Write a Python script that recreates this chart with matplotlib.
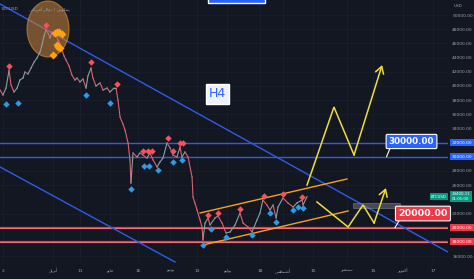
import matplotlib

matplotlib.use("Agg")
import matplotlib.pyplot as plt  # noqa: E402
from matplotlib.patches import Ellipse, Rectangle  # noqa: E402

# x = days since 1 April, y = price (USD)
price_days = [-27.7, -26.2, -24.6, -23.0, -22.0, -20.4, -18.8, -17.3, -15.7, -14.7, -13.1, -11.5,
              -9.9, -8.4, -6.8, -5.8, -4.7, -3.7, -2.6, -1.6, -0.5, 0.5, 1.6, 2.6, 3.7, 4.7, 5.8,
              6.8, 8.4, 9.9, 11.5, 12.6, 14.1, 15.7, 17.3, 18.3, 19.9, 20.9, 22.5, 24.6, 26.2,
              28.3, 29.8, 31.9, 33.0, 34.0, 35.1, 36.6, 37.7, 39.3, 40.3, 40.8, 41.9, 44.0, 45.5,
              47.1, 49.2, 50.8, 52.4, 54.5, 56.0, 57.6, 59.7, 61.3, 62.8, 64.9, 66.5, 67.5, 69.1,
              70.7, 72.8, 73.3, 74.3, 75.4, 77.0, 78.0, 78.5, 79.6, 81.2, 82.2, 84.8, 86.4, 88.5,
              90.6, 92.7, 95.3, 97.9, 99.5, 102.1, 104.2, 106.8, 108.4, 109.9, 112.0, 113.6,
              115.2, 116.8, 117.8, 120.4, 123.0, 125.7, 127.7, 130.4, 130.9, 133.0]
price_vals = [39420, 38720, 39700, 42240, 40130, 39140, 39700, 40830, 41120, 41960, 41680, 42520,
              43370, 43940, 44780, 45770, 47040, 47880, 47460, 46760, 47600, 47040, 47320, 46470,
              45910, 45060, 44220, 43650, 42810, 41540, 40830, 41120, 40550, 40970, 39700, 41400,
              42520, 41120, 39990, 40410, 39420, 39700, 39140, 39700, 39700, 38010, 35610, 34630,
              33780, 31950, 29550, 26300, 30540, 29970, 30540, 30250, 29830, 30540, 29550, 28560,
              29270, 29830, 31950, 31240, 30250, 29970, 31380, 29970, 30680, 29970, 27150, 24330,
              23490, 22500, 21090, 20100, 18270, 20660, 21370, 20380, 21370, 21650, 20660, 19250,
              19400, 20380, 22080, 20660, 20100, 19400, 21090, 22080, 23910, 23200, 22500, 23200,
              21370, 22920, 24190, 23490, 22920, 23490, 23910, 23200, 24400]

high_days = [-23.0, -3.7, 19.9, 33.5, 47.1, 49.7, 51.8, 60.2, 62.8, 66.5, 68.1, 81.2, 86.4, 97.9,
             110.5, 120.4, 130.4]
high_vals = [42810, 48590, 43370, 40270, 30820, 30820, 30820, 32650, 30820, 31950, 31950, 21790,
             22080, 22640, 24470, 24750, 24330]
low_days = [-24.6, -18.3, 17.3, 29.8, 40.8, 47.6, 50.3, 55.0, 62.8, 67.5, 78.5, 82.7, 90.6, 104.2,
            113.6, 116.8, 125.7, 128.3, 130.9]
low_vals = [37450, 37590, 38720, 37590, 25460, 28700, 28700, 28140, 29270, 29550, 17560, 19820,
            18690, 18970, 22080, 20810, 22500, 22920, 22780]
top_days = [0.0, 1.0, 2.1, 3.1, 4.7, 2.1, 2.6, 3.7]
top_vals = [44360, 47460, 47600, 47600, 47320, 45770, 45490, 45350]

# drawings
blue_levels = [32000, 30000]
red_levels = [20000, 18000]
trend_a = ([-27.7, 206.8], [51550, 16570])
trend_b = ([-27.7, 63.9], [28560, 15160])
chan_up = ([77.0, 153.9], [22080, 26870])
chan_lo = ([78.5, 154.5], [17560, 22360])
zig_up = ([133.0, 147.1, 157.6, 172.3], [26020, 37020, 30250, 42950])
zig_lo = ([138.2, 154.5, 162.3, 168.1, 174.3], [23630, 20100, 23200, 20660, 25600])
last_price = 24400.11

price_ticks = [16000, 22000, 26000, 28000, 34000, 36000, 38000, 40000, 42000, 44000, 46000,
               48000, 50000]
time_ticks = [-26.2, 0, 14.1, 29.8, 44.5, 61.3, 75.4, 91.1, 108.4, 120.4, 136.1, 153.9, 167.5,
              183.2, 199.0]
# Arabic month names in shaped presentation forms, visual order
time_labels = ["2", "\uFEDE\uFEF3\uFEAE\uFE91\uFE83", "11", "\uFEEE\uFEF3\uFE8E\uFEE3", "16",
               "\uFEEE\uFEF4\uFEE7\uFEEE\uFEF3", "13", "\uFEEE\uFEF4\uFEDF\uFEEE\uFEF3", "18",
               "\uFEB2\uFEC4\uFEB4\uFECF\uFE83", "15", "\uFEAE\uFE92\uFEE4\uFE98\uFE92\uFEB3", "15",
               "\uFEAE\uFE91\uFEEE\uFE98\uFEDB\uFE83", "17"]
header = ("\uFEF2\uFEDC\uFEF3\uFEAE\uFEE3\uFE83 \uFEAD\uFE8E\uFEDF\uFEED\uFEA9 / "
          "\uFEE6\uFEF3\uFEEE\uFEDC\uFE98\uFEF4\uFE91")

BG = "#131722"
BLUE = "#2e5ce6"
RED = "#f23645"
YELLOW = "#f0dc3c"
ORANGE = "#f7a021"
TXT = "#9aa0ad"

plt.rcParams["font.family"] = ["DejaVu Sans"]
fig = plt.figure(figsize=(4.74, 2.79), dpi=100, facecolor=BG)
ax = fig.add_axes([0, 16 / 279, 448 / 474, 263 / 279], facecolor=BG)
ax.set_xlim(-27.75, 206.8)
ax.set_ylim(15022, 52116)

ax.grid(True, color="#1b2030", lw=0.5)
ax.set_axisbelow(True)
for s in ax.spines.values():
    s.set_visible(False)

ax.yaxis.tick_right()
ax.set_yticks(price_ticks)
ax.set_yticklabels([f"{p:.2f}" for p in price_ticks])
ax.set_xticks(time_ticks)
ax.set_xticklabels(time_labels)
ax.tick_params(length=0, labelsize=3.2, colors=TXT)
ax.tick_params(axis="y", pad=3)
ax.tick_params(axis="x", pad=4)

# levels and trend lines
for lv in blue_levels:
    ax.axhline(lv, color=BLUE, lw=1.0, zorder=2)
for lv in red_levels:
    ax.axhline(lv, color=RED, lw=1.6, zorder=2)
    ax.axhline(lv, color="#ff9aa3", lw=0.4, zorder=2)
for xs, ys in (trend_a, trend_b):
    ax.plot(xs, ys, color=BLUE, lw=1.0, zorder=2)
for xs, ys in (chan_up, chan_lo):
    ax.plot(xs, ys, color=ORANGE, lw=1.0, zorder=3)

ax.add_patch(Ellipse((-2.6, 48030), 22, 7900, fc="#c8843c", alpha=0.55, ec=ORANGE, lw=0.8,
                     zorder=2))

# price line, coloured per move
for i in range(len(price_days) - 1):
    up = price_vals[i + 1] >= price_vals[i]
    ax.plot(price_days[i:i + 2], price_vals[i:i + 2], color="#86a29e" if up else "#d86470",
            lw=0.8, zorder=3)

ax.plot(high_days, high_vals, "D", ms=3.3, color="#f5515f", mec="none", zorder=4)
ax.plot(low_days, low_vals, "D", ms=3.3, color="#2d9be6", mec="none", zorder=4)
ax.plot(top_days, top_vals, "D", ms=3.6, color="#ffa20a", mec="none", zorder=5)

# projected paths
for xs, ys in (zig_up, zig_lo):
    ax.plot(xs[:-1], ys[:-1], color=YELLOW, lw=1.1, zorder=4, solid_joinstyle="miter")
    ax.annotate("", xy=(xs[-1], ys[-1]), xytext=(xs[-2], ys[-2]),
                arrowprops=dict(arrowstyle="->,head_length=0.5,head_width=0.3", color=YELLOW,
                                lw=1.1, shrinkA=0, shrinkB=0), zorder=4)

ax.add_patch(Rectangle((157.1, 22780), 24.6, 705, fc="#787b86", alpha=0.5, ec="#9598a1",
                       lw=0.6, zorder=3))
ax.add_patch(Rectangle((81.2, 51690), 29.8, 1500, fc="#2962ff", ec="white", lw=1.0, zorder=5))

ax.text(86.2, 38860, "H4", fontsize=9, color="#2962ff", ha="center", va="center", zorder=6,
        bbox=dict(boxstyle="square,pad=0.25", fc="#eef1fb", ec="white", lw=1.0))

ax.annotate("30000.00", xy=(174.6, 30000), xytext=(187.7, 32160), fontsize=6.3,
            fontweight="bold", color="white", ha="center", va="center", zorder=7,
            bbox=dict(boxstyle="round,pad=0.3,rounding_size=0.15", fc="#2962ff", ec="white",
                      lw=0.8),
            arrowprops=dict(arrowstyle="-", color="white", lw=0.8, shrinkA=0, shrinkB=0,
                            relpos=(0.05, 0)))
ax.annotate("20000.00", xy=(179.0, 20000), xytext=(193.7, 22000), fontsize=6.8,
            fontweight="bold", color="white", ha="center", va="center", zorder=7,
            bbox=dict(boxstyle="round,pad=0.3,rounding_size=0.15", fc="#f23645", ec="white",
                      lw=0.8),
            arrowprops=dict(arrowstyle="-", color="white", lw=0.8, shrinkA=0, shrinkB=0,
                            relpos=(0.05, 0)))

# price scale tags
ytr = ax.get_yaxis_transform()
for lv in blue_levels:
    ax.text(1.008, lv, f"{lv:.2f}", transform=ytr, fontsize=3.2, color="white", ha="left",
            va="center", clip_on=False, zorder=8,
            bbox=dict(boxstyle="square,pad=0.35", fc="#2962ff", ec="none"))
for lv in red_levels:
    ax.text(1.008, lv, f"{lv:.2f}", transform=ytr, fontsize=3.2, color="white", ha="left",
            va="center", clip_on=False, zorder=8,
            bbox=dict(boxstyle="square,pad=0.35", fc="#f23645", ec="none"))
ax.text(1.008, last_price, f"{last_price:.2f}\n01:05:00", transform=ytr, fontsize=2.8,
        color="white", ha="left", va="center", clip_on=False, zorder=8, linespacing=1.1,
        bbox=dict(boxstyle="square,pad=0.3", fc="#089981", ec="none"))
ax.text(0.997, last_price, "BTCUSD", transform=ytr, fontsize=2.8, color="white", ha="right",
        va="center", zorder=8, bbox=dict(boxstyle="square,pad=0.3", fc="#089981", ec="none"))
ax.text(1.012, 0.985, "USD", transform=ax.transAxes, fontsize=3.0, color=TXT, ha="left",
        va="top", clip_on=False)

ax.text(0.004, 0.975, "BTCUSD", transform=ax.transAxes, fontsize=3.0, color=TXT, ha="left",
        va="top")
ax.text(0.065, 0.975, header, transform=ax.transAxes, fontsize=3.2, color=TXT, ha="left",
        va="top")

fig.savefig("out.png", dpi=100, facecolor=BG)
plt.close(fig)
